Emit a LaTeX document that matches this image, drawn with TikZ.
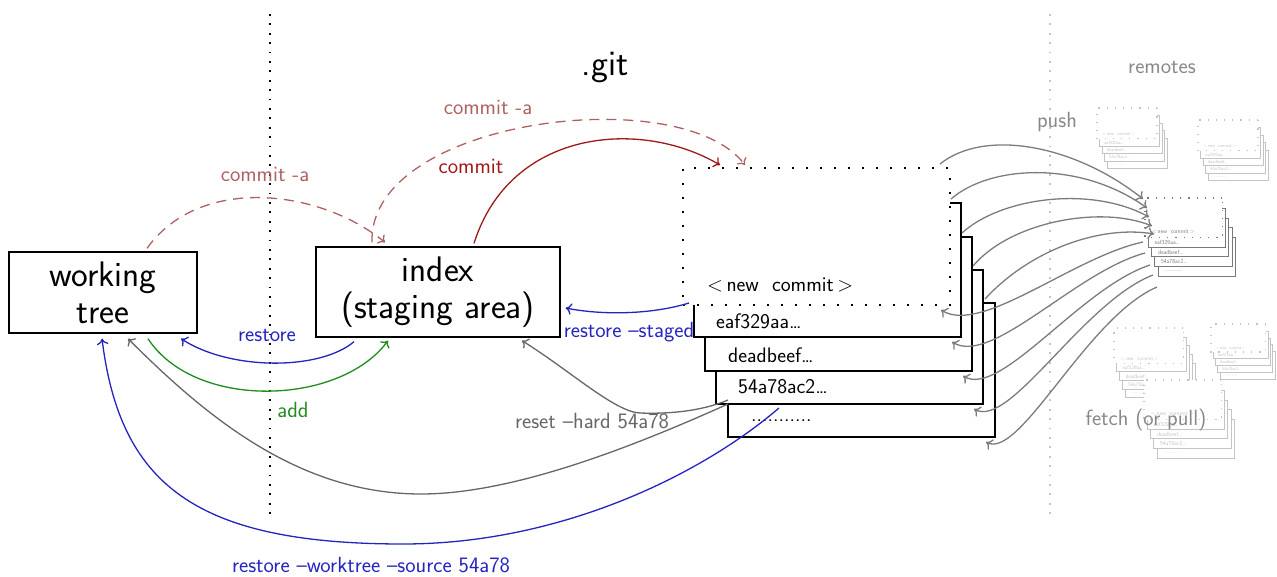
\documentclass[tikz,border=0pt]{standalone}
\usepackage{fontspec}
\usetikzlibrary{arrows.meta,calc}
\newcommand\bigfont{\fontsize{35.5}{37}\selectfont\sffamily}
\newcommand\lblfont{\fontsize{22}{26}\selectfont\sffamily}
\newcommand\boxfont{\fontsize{21}{25}\selectfont\sffamily}
\definecolor{cdash}{HTML}{B06060}
\definecolor{cred}{HTML}{A01818}
\definecolor{cblue}{HTML}{2424C0}
\definecolor{cgreen}{HTML}{1E8C1E}
\definecolor{creset}{HTML}{666666}
\definecolor{cpush}{HTML}{7C7C7C}
\definecolor{cremtxt}{HTML}{888888}
\definecolor{cfaint}{HTML}{C4C4C4}
\definecolor{cmid}{HTML}{7A7A7A}
\tikzset{
 cbox/.style={draw, fill=white, rectangle, minimum width=267pt, minimum height=134pt, inner sep=0pt, outer sep=0pt, line width=1.4pt},
 nbox/.style={draw, fill=white, rectangle, minimum width=267pt, minimum height=137pt, inner sep=0pt, outer sep=0pt, line width=1.6pt, dash pattern=on 1.6pt off 12.4pt},
 ctext/.style={inner sep=0pt, anchor=west, font=\boxfont},
 pics/cstack/.style={code={
  \node[cbox, anchor=north west] (-b4) at (45,135) {};
  \node[ctext] (-t4) at (68,253) {...........};
  \node[cbox, anchor=north west] (-b3) at (33,102) {};
  \node[ctext] (-t3) at (55,219) {54a78ac2\ldots};
  \node[cbox, anchor=north west] (-b2) at (22,69) {};
  \node[ctext] (-t2) at (45,187) {deadbeef\ldots};
  \node[cbox, anchor=north west] (-b1) at (11,35) {};
  \node[ctext] (-t1) at (33,153) {eaf329aa\ldots};
  \node[nbox, anchor=north west] (-new) at (0,0) {};
  \node[ctext] (-tn) at (24,117) {$<$\,new~~commit\,$>$};
 }},
 arr/.style={line width=1.3pt, -{To[length=6pt,width=11.5pt]}},
 dsh/.style={dash pattern=on 10pt off 7pt},
 lbl/.style={font=\lblfont, inner sep=0pt},
 mainbox/.style={draw, line width=1.3pt, align=center, font=\bigfont, inner sep=0pt},
 vdots/.style={line width=1.8pt, dash pattern=on 1.8pt off 7.6pt},
 remote/.style={transform shape, color=cfaint, cbox/.append style={line width=0.9pt}, nbox/.append style={line width=1.2pt, dash pattern=on 1.2pt off 7pt}},
}
\begin{document}
\begin{tikzpicture}[x=1pt,y=-1pt]
\useasboundingbox (0,0) rectangle (1277,577);
% separators
\draw[vdots] (270,14) -- (270,515);
\draw[vdots, cfaint, line width=1.4pt] (1050,14) -- (1050,515);
% titles
\node[font=\fontsize{36}{40}\selectfont\sffamily, inner sep=0pt] (git) at (605,68) {.git};
\node[lbl, text=cremtxt] (rem) at (1162,68) {remotes};
\node[lbl, text=cremtxt] (push) at (1057,122) {push};
% main boxes
\node[mainbox, minimum width=188pt, minimum height=81pt] (wt) at (103,292.5) {working\\tree};
\node[mainbox, minimum width=244pt, minimum height=90pt] (idx) at (438,292) {index\\(staging area)};
% commit stack
\pic (st) at (683,168) {cstack};
% remotes
\pic[scale=0.225, remote] (r1) at (1097,108) {cstack};
\pic[scale=0.225, remote] (r2) at (1198,120) {cstack};
\pic[scale=0.26, remote] (r4) at (1114,328) {cstack};
\pic[scale=0.205, remote] (r5) at (1211,324) {cstack};
\pic[scale=0.29, remote] (r6) at (1144,380) {cstack};
\pic[scale=0.29, remote, color=cmid] (r3) at (1145,198) {cstack};
\node[lbl, text=cremtxt] (fetch) at (1146,420) {fetch (or pull)};
% labels
\node[lbl, text=cdash] (l1) at (265,174) {commit -a};
\node[lbl, text=cdash] (l2) at (488,107) {commit -a};
\node[lbl, text=cred] (l3) at (471,166) {commit};
\node[lbl, text=cblue] (l4) at (267,336) {restore};
\node[lbl, text=cgreen] (l5) at (293,410) {add};
\node[lbl, text=cblue] (l6) at (629,332) {restore --staged};
\node[lbl, text=creset] (l7) at (592,421) {reset --hard 54a78};
\node[lbl, text=cblue] (l8) at (371,565) {restore --worktree --source 54a78};
% via points
\coordinate (rv) at (640,413);
\coordinate (rm) at (421,494);
\coordinate (bm) at (403,544);
% connectors
\draw[arr, cdash, dsh] ($(wt.north)+(44,-3)$) .. controls +(53,-74) and +(-65,-53) .. ($(idx.north)+(-53,-4)$);
\draw[arr, cdash, dsh] ($(idx.north)+(-66,-4)$) .. controls +(-4,-123) and +(-65,-85) .. ($(st-new.north)+(-71.5,-3)$);
\draw[arr, cred] ($(idx.north)+(36,-3)$) .. controls +(36,-114) and +(-80,-47) .. ($(st-new.north)+(-96.5,-3)$);
\draw[arr, cblue] ($(idx.south)+(-84,4)$) .. controls +(-34,29) and +(49,32) .. ($(wt.south)+(78,5)$);
\draw[arr, cgreen] ($(wt.south)+(45,5)$) .. controls +(47,72) and +(-48,65) .. ($(idx.south)+(-50,3)$);
\draw[arr, cblue] ($(st-new.south west)+(6,-2)$) .. controls +(-39,12) and +(35,7) .. ($(idx.east)+(5,16)$);
\draw[arr, creset] ($(st-b4.north west)+(0,97)$) .. controls +(-28,12) and +(25,1) .. (rv) .. controls +(-25,-1) and +(48,30) .. ($(idx.south)+(84,3)$);
\draw[arr, creset] ($(st-b4.north west)+(0,101)$) .. controls +(-100,45) and +(90,0) .. (rm) .. controls +(-121,0) and +(80,80) .. ($(wt.south)+(25,5)$);
\draw[arr, cblue] ($(st-b4.north west)+(51,105)$) .. controls +(-78,67) and +(157,0) .. (bm) .. controls +(-210,0) and +(18,144) .. ($(wt.south)+(-1,5)$);
% push
\draw[arr, cpush] ($(st-new.north east)+(-10,-4)$) .. controls +(45,-36) and +(-68,-54) .. ($(r3-new.north west)+(-2,1)$);
\draw[arr, cpush] ($(st-b1.north east)+(-10,-4)$) .. controls +(39,-34) and +(-67,-48) .. ($(r3-new.north west)+(2,10)$);
\draw[arr, cpush] ($(st-b2.north east)+(-10,-4)$) .. controls +(38,-35) and +(-59,-32) .. ($(r3-new.north west)+(4,19)$);
\draw[arr, cpush] ($(st-b3.north east)+(-10,-4)$) .. controls +(37,-44) and +(-52,-21) .. ($(r3-new.north west)+(7,28)$);
\draw[arr, cpush] ($(st-b4.north east)+(-10,-4)$) .. controls +(45,-49) and +(-54,-9) .. ($(r3-new.north west)+(9,36)$);
% fetch
\draw[arr, cpush] ($(r3-new.north west)+(-2,44)$) .. controls +(-70,15) and +(41,25) .. ($(st-new.south east)+(-9,5)$);
\draw[arr, cpush] ($(r3-new.north west)+(0,55)$) .. controls +(-70,19) and +(40,24) .. ($(st-b1.south east)+(-9,5)$);
\draw[arr, cpush] ($(r3-new.north west)+(5,67)$) .. controls +(-70,23) and +(38,22) .. ($(st-b2.south east)+(-9,5)$);
\draw[arr, cpush] ($(r3-new.north west)+(8,77)$) .. controls +(-70,27) and +(36,20) .. ($(st-b3.south east)+(-9,5)$);
\draw[arr, cpush] ($(r3-new.north west)+(12,89)$) .. controls +(-70,30) and +(34,18) .. ($(st-b4.south east)+(-9,5)$);
\end{tikzpicture}
\end{document}
